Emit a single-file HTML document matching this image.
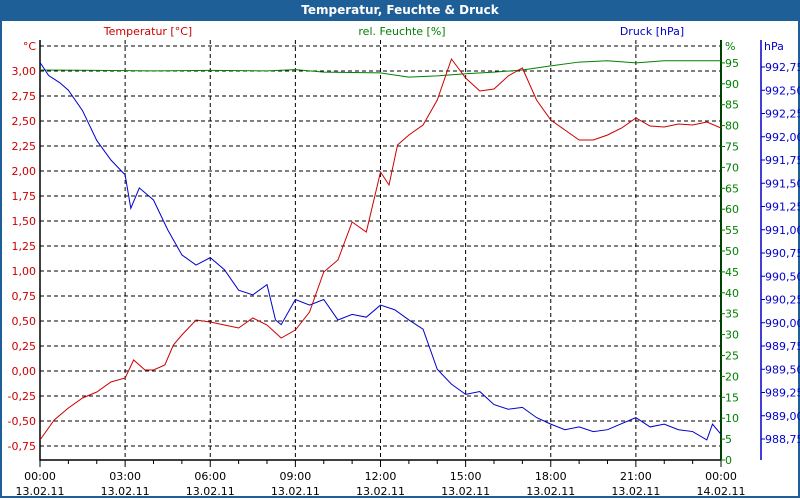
<!DOCTYPE html>
<html><head><meta charset="utf-8"><style>
body{margin:0;width:800px;height:500px;overflow:hidden;background:#fff;font-family:"DejaVu Sans","Liberation Sans",sans-serif}
#frame{position:absolute;left:0;top:0;width:796px;height:496px;border:2px solid #1f5f97;border-top:none}
#title{position:absolute;left:0;top:0;width:800px;height:21px;background:#1f5f97;color:#fff;font-weight:bold;font-size:12px;text-align:center;line-height:20px}
</style></head><body>
<div id="frame"></div>
<div id="title">Temperatur, Feuchte &amp; Druck</div>
<svg id="c" width="800" height="500" style="position:absolute;left:0;top:0"></svg>
<script>
const hours=[0,0.5,1,1.5,2,2.5,3,3.3,3.7,4,4.4,4.7,5,5.5,6,6.5,7,7.5,8,8.5,9,9.5,10,10.5,11,11.5,12,12.3,12.6,13,13.5,14,14.5,15,15.5,16,16.5,17,17.5,18,18.5,19,19.5,20,20.5,21,21.5,22,22.5,23,23.5,24];
const temp=[-0.69,-0.49,-0.37,-0.27,-0.21,-0.11,-0.07,0.11,0.01,0.01,0.06,0.26,0.36,0.51,0.49,0.46,0.43,0.53,0.46,0.33,0.41,0.59,0.99,1.11,1.49,1.39,1.99,1.86,2.26,2.36,2.46,2.71,3.12,2.93,2.80,2.82,2.95,3.03,2.71,2.51,2.41,2.31,2.31,2.36,2.43,2.53,2.45,2.44,2.47,2.46,2.49,2.43];
const hHours=[0,2,4,6,8,9,10,11,12,13,14,15,16,17,18,19,20,21,22,23,24];
const humid=[93.3,93.2,93.1,93.2,93.1,93.4,92.8,92.7,92.6,91.6,91.9,92.4,92.8,93.3,94.3,95.2,95.5,95.0,95.5,95.5,95.5];
const pHours=[0,0.3,0.7,1,1.5,2,2.5,3,3.2,3.5,4,4.5,5,5.5,6,6.5,7,7.5,8,8.3,8.5,9,9.5,10,10.5,11,11.5,12,12.5,13,13.5,14,14.5,15,15.5,16,16.5,17,17.5,18,18.5,19,19.5,20,21,21.5,22,22.5,23,23.5,23.7,24];
const press=[992.80,992.66,992.58,992.50,992.28,991.96,991.75,991.59,991.23,991.45,991.32,991.00,990.73,990.62,990.70,990.57,990.35,990.30,990.41,990.03,989.98,990.25,990.19,990.25,990.03,990.09,990.06,990.19,990.14,990.03,989.93,989.50,989.34,989.23,989.26,989.12,989.07,989.09,988.98,988.91,988.85,988.88,988.83,988.85,988.98,988.88,988.91,988.85,988.83,988.74,988.91,988.80];
const tTicks=["3,00","2,75","2,50","2,25","2,00","1,75","1,50","1,25","1,00","0,75","0,50","0,25","0,00","-0,25","-0,50","-0,75"];
const hTicks=["95","90","85","80","75","70","65","60","55","50","45","40","35","30","25","20","15","10","5","0"];
const pTicks=["992,75","992,50","992,25","992,00","991,75","991,50","991,25","991,00","990,75","990,50","990,25","990,00","989,75","989,50","989,25","989,00","988,75"];
const xTimes=["00:00","03:00","06:00","09:00","12:00","15:00","18:00","21:00","00:00"];
const xDates=["13.02.11","13.02.11","13.02.11","13.02.11","13.02.11","13.02.11","13.02.11","13.02.11","14.02.11"];
const L=40,R=721,T=40,B=460;
const x=h=>L+h*(R-L)/24;
const yT=v=>71+(3-v)*100;
const yH=v=>460-v*4.18;
const yP=v=>439-(v-988.75)*93;
const svg=document.getElementById('c');const NS='http://www.w3.org/2000/svg';
function mk(t,a,p){const e=document.createElementNS(NS,t);for(const k in a)e.setAttribute(k,a[k]);(p||svg).appendChild(e);return e;}
function txt(s,xx,yy,col,anchor){const e=mk('text',{x:xx,y:yy,fill:col,'font-size':11,'text-anchor':anchor||'middle','font-family':'"DejaVu Sans","Liberation Sans",sans-serif'});e.textContent=s;return e;}
// grid
for(let i=-1;i<tTicks.length;i++){const v=3-i*0.25;const l=mk('line',{x1:L,x2:R,y1:yT(v),y2:yT(v),stroke:'#000','stroke-dasharray':'4,3'});

}
for(let i=1;i<8;i++){const l=mk('line',{x1:x(i*3),x2:x(i*3),y1:T,y2:B,stroke:'#000','stroke-dasharray':'4,3'});

}
mk('path',{d:`M${L},${T}V${B}H${R}`,stroke:'#000',fill:'none','stroke-width':1.5});
mk('line',{x1:R,x2:R,y1:T,y2:B,stroke:'#008000','stroke-width':2});
mk('line',{x1:R,x2:R,y1:T,y2:B,stroke:'#000','stroke-width':1});
mk('line',{x1:761,x2:761,y1:40,y2:460,stroke:'#0000cc','stroke-width':1.5});
// x ticks
for(let h=0;h<=24;h++){mk('line',{x1:x(h),x2:x(h),y1:B,y2:B+(h%3?4:7),stroke:'#000'});}
xTimes.forEach((s,i)=>{const a=txt(s,x(i*3),480,'#000');
const b=txt(xDates[i],x(i*3),495,'#000');});
// y axes labels
tTicks.forEach((s,i)=>{const e=txt(s,36,yT(3-i*0.25)+4,'#cc0000','end');});
txt('°C',36,50,'#cc0000','end');
hTicks.forEach((s,i)=>{const v=95-i*5;mk('line',{x1:R,x2:R+4,y1:yH(v),y2:yH(v),stroke:'#008000'});const e=txt(s,725,yH(v)+4,'#008000','start');});
txt('%',725,50,'#008000','start');
pTicks.forEach((s,i)=>{const v=992.75-i*0.25;mk('line',{x1:761,x2:765,y1:yP(v),y2:yP(v),stroke:'#0000cc'});const e=txt(s,765,yP(v)+4,'#0000cc','start');});
txt('hPa',764,50,'#0000cc','start');
const t1=txt('Temperatur [°C]',148,35,'#cc0000');
const t2=txt('rel. Feuchte [%]',402,35,'#008000');
const t3=txt('Druck [hPa]',652,35,'#0000cc');
function line(xs,ys,fy,col,name){const p=mk('polyline',{points:xs.map((h,i)=>x(h)+','+fy(ys[i])).join(' '),fill:'none',stroke:col,'stroke-width':1});

}
line(hHours,humid,yH,'#008000','humidity-line');
line(pHours,press,yP,'#0000cc','pressure-line');
line(hours,temp,yT,'#cc0000','temperature-line');
</script>
</body></html>
